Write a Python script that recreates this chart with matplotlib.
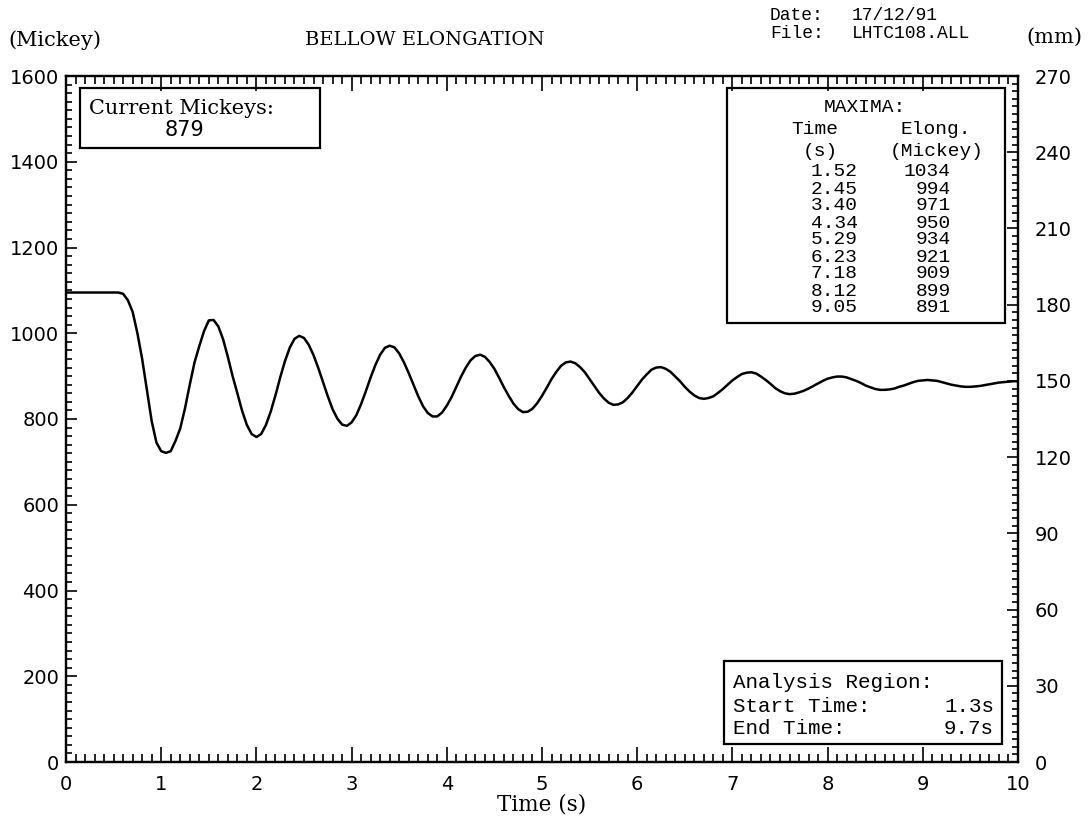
import numpy as np
import matplotlib
matplotlib.use("Agg")
from matplotlib import pyplot as plt
from matplotlib.patches import Rectangle
from matplotlib.ticker import MultipleLocator

# bellow elongation trace, sampled every 0.05 s (Mickey)
time_s = np.linspace(0, 10, 201)
elong = [
    1095, 1095, 1095, 1095, 1095, 1095, 1095, 1095, 1095, 1095,
    1095, 1095, 1092, 1077, 1050, 1000, 940, 868, 795, 745,
    725, 721, 725, 749, 778, 825, 880, 932, 970, 1005,
    1030, 1031, 1016, 986, 945, 900, 860, 819, 786, 765,
    758, 765, 786, 817, 855, 897, 935, 966, 987, 994,
    989, 973, 949, 919, 886, 853, 823, 801, 787, 784,
    792, 809, 835, 865, 897, 926, 950, 966, 971, 967,
    953, 932, 907, 880, 853, 830, 814, 806, 806, 815,
    831, 851, 875, 899, 920, 937, 947, 950, 945, 933,
    917, 896, 874, 854, 836, 823, 816, 817, 824, 837,
    854, 873, 893, 910, 924, 932, 934, 930, 921, 909,
    893, 877, 861, 848, 838, 833, 834, 839, 849, 862,
    877, 892, 904, 915, 920, 921, 917, 910, 899, 888,
    875, 864, 855, 849, 847, 849, 853, 861, 870, 880,
    890, 898, 905, 908, 909, 906, 899, 891, 882, 872,
    865, 860, 858, 859, 862, 866, 871, 877, 883, 889,
    894, 897, 899, 899, 897, 893, 889, 884, 878, 874,
    870, 868, 868, 869, 871, 875, 878, 882, 886, 889,
    890, 891, 890, 889, 886, 883, 880, 878, 876, 875,
    875, 876, 877, 879, 881, 883, 885, 886, 887, 888,
    888,
]

# maxima table
max_times = ["1.52", "2.45", "3.40", "4.34", "5.29", "6.23", "7.18", "8.12", "9.05"]
max_elong = [1034, 994, 971, 950, 934, 921, 909, 899, 891]

current_mickeys = 879
start_time = 1.3
end_time = 9.7
date_str = "17/12/91"
file_str = "LHTC108.ALL"

W, H = 1088, 823
fig = plt.figure(figsize=(W / 100, H / 100), dpi=100)
fig.patch.set_facecolor("white")

def fx(x):
    return x / W

def fy(y):
    return 1 - y / H

serif = "DejaVu Serif"
mono = "Liberation Mono"

ax = fig.add_axes([fx(66), fy(762), fx(1018) - fx(66), fy(76) - fy(762)])
ax.plot(time_s, elong, color="black", lw=1.8)
ax.set_xlim(0, 10)
ax.set_ylim(0, 1600)
ax.xaxis.set_major_locator(MultipleLocator(1))
ax.xaxis.set_minor_locator(MultipleLocator(0.1))
ax.yaxis.set_major_locator(MultipleLocator(200))
ax.yaxis.set_minor_locator(MultipleLocator(20))
ax.tick_params(which="both", direction="in", top=True, right=False,
               labelsize=14, width=1.2, color="black")
ax.tick_params(axis="x", which="major", length=11, pad=9)
ax.tick_params(axis="x", which="minor", length=5.5)
ax.tick_params(axis="y", which="major", length=8, pad=5)
ax.tick_params(axis="y", which="minor", length=4)
for s in ax.spines.values():
    s.set_linewidth(1.6)

# right axis in mm
ax2 = ax.twinx()
ax2.set_ylim(0, 270)
ax2.yaxis.set_major_locator(MultipleLocator(30))
ax2.yaxis.set_minor_locator(MultipleLocator(3))
ax2.tick_params(which="both", direction="in", labelsize=14, width=1.2)
ax2.tick_params(which="major", length=8, pad=12)
ax2.tick_params(which="minor", length=4)
for s in ax2.spines.values():
    s.set_linewidth(1.6)

ax.set_xlabel("Time (s)", family=serif, fontsize=15.5, labelpad=0)

# header texts
fig.text(fx(8), fy(40), "(Mickey)", family=serif, fontsize=15, va="center")
fig.text(fx(425), fy(40), "BELLOW ELONGATION", family=serif, fontsize=14,
         ha="center", va="center")
fig.text(fx(770), fy(15), "Date:", family=mono, fontsize=13, va="center")
fig.text(fx(852), fy(15), date_str, family=mono, fontsize=13, va="center")
fig.text(fx(770), fy(33), "File:", family=mono, fontsize=13, va="center")
fig.text(fx(852), fy(33), file_str, family=mono, fontsize=13, va="center")
fig.text(fx(1082), fy(37), "(mm)", family=serif, fontsize=15, ha="right", va="center")

# current mickeys box
fig.add_artist(Rectangle((fx(80), fy(148)), fx(320) - fx(80), fy(88) - fy(148),
                         transform=fig.transFigure, fill=False, lw=1.6, ec="black"))
fig.text(fx(89), fy(108), "Current Mickeys:", family=serif, fontsize=15, va="center")
fig.text(fx(184), fy(130), str(current_mickeys), fontsize=15, ha="center", va="center")

# maxima box
fig.add_artist(Rectangle((fx(727), fy(323)), fx(1005) - fx(727), fy(88) - fy(323),
                         transform=fig.transFigure, fill=False, lw=1.6, ec="black"))
tsz = 14
fig.text(fx(865), fy(107), "MAXIMA:", family=mono, fontsize=tsz, ha="center", va="center")
fig.text(fx(815), fy(129), "Time", family=mono, fontsize=tsz, ha="center", va="center")
fig.text(fx(936), fy(129), "Elong.", family=mono, fontsize=tsz, ha="center", va="center")
fig.text(fx(820), fy(152), "(s)", family=mono, fontsize=tsz, ha="center", va="center")
fig.text(fx(937), fy(152), "(Mickey)", family=mono, fontsize=tsz, ha="center", va="center")
for i, (tm, el) in enumerate(zip(max_times, max_elong)):
    yy = 172 + i * 17
    fig.text(fx(858), fy(yy), tm, family=mono, fontsize=tsz, ha="right", va="center")
    fig.text(fx(951), fy(yy), str(el), family=mono, fontsize=tsz, ha="right", va="center")

# analysis region box
fig.add_artist(Rectangle((fx(724), fy(744)), fx(1002) - fx(724), fy(661) - fy(744),
                         transform=fig.transFigure, fill=False, lw=1.6, ec="black"))
asz = 15
fig.text(fx(733), fy(683), "Analysis Region:", family=mono, fontsize=asz, va="center")
fig.text(fx(733), fy(706), "Start Time:", family=mono, fontsize=asz, va="center")
fig.text(fx(994), fy(706), f"{start_time}s", family=mono, fontsize=asz, ha="right", va="center")
fig.text(fx(733), fy(729), "End Time:", family=mono, fontsize=asz, va="center")
fig.text(fx(994), fy(729), f"{end_time}s", family=mono, fontsize=asz, ha="right", va="center")

fig.savefig("out.png", dpi=100)
